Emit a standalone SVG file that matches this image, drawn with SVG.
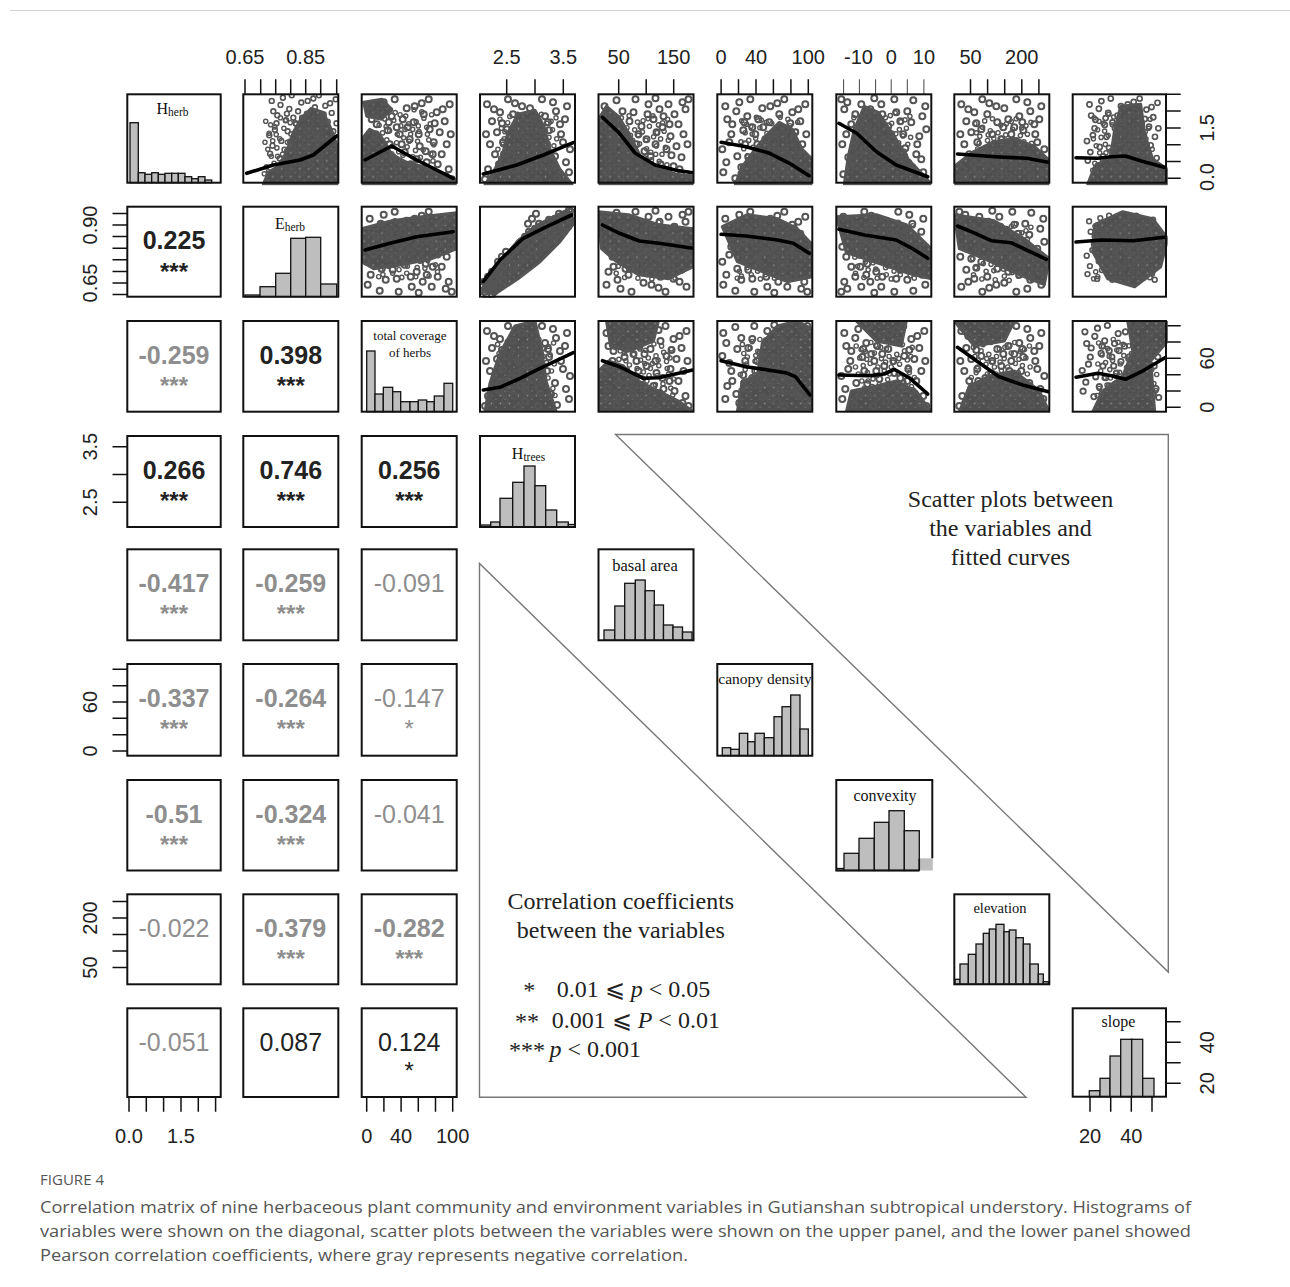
<svg xmlns="http://www.w3.org/2000/svg" xmlns:xlink="http://www.w3.org/1999/xlink" width="1290" height="1287" viewBox="0 0 1290 1287">
<style>
.fr{fill:none;stroke:#111;stroke-width:2}
.bar{fill:#bebebe;stroke:#111;stroke-width:1.3}
.tk{stroke:#111;stroke-width:1.5}
.tkl{stroke:#444;stroke-width:1}
.ax{font-family:"Liberation Sans",Arial,sans-serif;font-size:20px;fill:#222;text-anchor:middle}
.t{font-family:"Liberation Serif","Times New Roman",serif;fill:#111;text-anchor:middle}
.n{font-family:"Liberation Sans",Arial,sans-serif;font-size:25px;text-anchor:middle}
.s{font-size:24px}
.b{font-weight:bold}
.p{fill:#222}
.g{fill:#8e8e8e}
.pt{fill:none;stroke:#555;stroke-width:2}
.m{fill:url(#dp);stroke:#555;stroke-width:3;stroke-linejoin:round}
.fit{fill:none;stroke:#000;stroke-width:3.6;stroke-linejoin:round;stroke-linecap:round}
.tri{fill:none;stroke:#777;stroke-width:1.4}
.big{font-family:"Liberation Serif","Times New Roman",serif;font-size:24px;fill:#222}
.cap{font-family:"Open Sans","Noto Sans",sans-serif;fill:#555}
</style>
<defs>
<pattern id="dp" x="0" y="0" width="9" height="8" patternUnits="userSpaceOnUse">
<rect width="9" height="8" fill="#4f4f4f"/>
<circle cx="2.5" cy="2.5" r="0.9" fill="#8c8c8c"/>
<circle cx="7" cy="6.2" r="0.7" fill="#7a7a7a"/>
</pattern>
<clipPath id="cp"><rect x="0" y="0" width="95" height="91"/></clipPath>
<g id="cl" class="pt">
<circle cx="8" cy="12" r="3"/><circle cx="15" cy="30" r="3"/><circle cx="22" cy="8" r="3"/><circle cx="30" cy="22" r="3"/><circle cx="38" cy="40" r="3"/><circle cx="45" cy="14" r="3"/><circle cx="52" cy="28" r="3"/><circle cx="60" cy="9" r="3"/><circle cx="68" cy="35" r="3"/><circle cx="75" cy="18" r="3"/><circle cx="83" cy="27" r="3"/><circle cx="88" cy="10" r="3"/><circle cx="12" cy="48" r="3"/><circle cx="20" cy="62" r="3"/><circle cx="28" cy="50" r="3"/><circle cx="35" cy="72" r="3"/><circle cx="43" cy="58" r="3"/><circle cx="50" cy="80" r="3"/><circle cx="58" cy="52" r="3"/><circle cx="65" cy="68" r="3"/><circle cx="72" cy="48" r="3"/><circle cx="80" cy="60" r="3"/><circle cx="87" cy="75" r="3"/><circle cx="6" cy="78" r="3"/><circle cx="18" cy="84" r="3"/><circle cx="26" cy="36" r="3"/><circle cx="33" cy="5" r="3"/><circle cx="41" cy="25" r="3"/><circle cx="48" cy="45" r="3"/><circle cx="55" cy="65" r="3"/><circle cx="62" cy="20" r="3"/><circle cx="70" cy="80" r="3"/><circle cx="78" cy="38" r="3"/><circle cx="85" cy="50" r="3"/><circle cx="90" cy="85" r="3"/><circle cx="10" cy="25" r="3"/><circle cx="24" cy="73" r="3"/><circle cx="31" cy="63" r="3"/><circle cx="46" cy="33" r="3"/><circle cx="53" cy="12" r="3"/><circle cx="57" cy="40" r="3"/><circle cx="64" cy="57" r="3"/><circle cx="73" cy="29" r="3"/><circle cx="81" cy="15" r="3"/><circle cx="89" cy="40" r="3"/><circle cx="14" cy="40" r="3"/><circle cx="37" cy="85" r="3"/><circle cx="67" cy="5" r="3"/><circle cx="76" cy="70" r="3"/><circle cx="40" cy="50" r="3"/><circle cx="5" cy="55" r="3"/><circle cx="19" cy="17" r="3"/><circle cx="84" cy="82" r="3"/><circle cx="61" cy="75" r="3"/><circle cx="27" cy="28" r="3"/><circle cx="49" cy="70" r="3"/><circle cx="71" cy="60" r="3"/><circle cx="9" cy="68" r="3"/><circle cx="35" cy="33" r="3"/><circle cx="57" cy="86" r="3"/>
</g>
<g id="cl2" class="pt">
<circle cx="5" cy="85" r="3"/><circle cx="10" cy="78" r="3"/><circle cx="8" cy="70" r="3"/><circle cx="15" cy="72" r="3"/><circle cx="20" cy="62" r="3"/><circle cx="25" cy="58" r="3"/><circle cx="22" cy="50" r="3"/><circle cx="30" cy="48" r="3"/><circle cx="35" cy="42" r="3"/><circle cx="40" cy="38" r="3"/><circle cx="45" cy="30" r="3"/><circle cx="50" cy="35" r="3"/><circle cx="55" cy="22" r="3"/><circle cx="60" cy="28" r="3"/><circle cx="65" cy="18" r="3"/><circle cx="70" cy="22" r="3"/><circle cx="75" cy="12" r="3"/><circle cx="80" cy="15" r="3"/><circle cx="85" cy="8" r="3"/><circle cx="90" cy="5" r="3"/><circle cx="12" cy="88" r="3"/><circle cx="28" cy="68" r="3"/><circle cx="48" cy="48" r="3"/><circle cx="70" cy="35" r="3"/><circle cx="88" cy="20" r="3"/><circle cx="62" cy="42" r="3"/><circle cx="38" cy="58" r="3"/><circle cx="52" cy="12" r="3"/><circle cx="78" cy="28" r="3"/><circle cx="18" cy="80" r="3"/>
</g>
</defs>
<rect x="0" y="0" width="1290" height="1287" fill="#fff"/>
<line x1="10" y1="10.5" x2="1290" y2="10.5" stroke="#d4d4d4" stroke-width="1"/>

<g id="axes">
<g id="axis-top">
<path class="tk" d="M245,79.3V94.3M260.7,79.3V94.3M275.7,79.3V94.3M290.7,79.3V94.3M305.7,79.3V94.3M320.7,79.3V94.3M336.7,79.3V94.3M506.7,79.3V94.3M535,79.3V94.3M563.3,79.3V94.3M618.7,79.3V94.3M646.2,79.3V94.3M673.7,79.3V94.3M721.1,79.3V94.3M738.5,79.3V94.3M756,79.3V94.3M773.4,79.3V94.3M790.9,79.3V94.3M808.3,79.3V94.3M970.5,79.3V94.3M987.6,79.3V94.3M1004.7,79.3V94.3M1021.8,79.3V94.3M1038.9,79.3V94.3"/>
<path class="tkl" d="M843.6,79.3V94.3M859.4,79.3V94.3M875.6,79.3V94.3M891.2,79.3V94.3M907.3,79.3V94.3M923.9,79.3V94.3"/>
<text class="ax" x="245" y="63.5">0.65</text><text class="ax" x="305.7" y="63.5">0.85</text>
<text class="ax" x="506.7" y="63.5">2.5</text><text class="ax" x="563.3" y="63.5">3.5</text>
<text class="ax" x="618.7" y="63.5">50</text><text class="ax" x="673.7" y="63.5">150</text>
<text class="ax" x="721.1" y="63.5">0</text><text class="ax" x="756" y="63.5">40</text><text class="ax" x="808.3" y="63.5">100</text>
<text class="ax" x="858.5" y="63.5">-10</text><text class="ax" x="891.2" y="63.5">0</text><text class="ax" x="923.9" y="63.5">10</text>
<text class="ax" x="970.5" y="63.5">50</text><text class="ax" x="1021.8" y="63.5">200</text>
</g>
<g id="axis-left">
<path class="tk" d="M112.5,213.4H127.3M112.5,225H127.3M112.5,236.6H127.3M112.5,248.2H127.3M112.5,259.8H127.3M112.5,271.4H127.3M112.5,283H127.3M112.5,294.6H127.3M112.5,446.7H127.3M112.5,474.5H127.3M112.5,502.3H127.3M112.5,669.3H127.3M112.5,685.7H127.3M112.5,702H127.3M112.5,718.3H127.3M112.5,734.7H127.3M112.5,751H127.3M112.5,901.5H127.3M112.5,918H127.3M112.5,934.5H127.3M112.5,951H127.3M112.5,967.5H127.3"/>
<text class="ax" transform="translate(97,225) rotate(-90)">0.90</text>
<text class="ax" transform="translate(97,283) rotate(-90)">0.65</text>
<text class="ax" transform="translate(97,446.7) rotate(-90)">3.5</text>
<text class="ax" transform="translate(97,502.3) rotate(-90)">2.5</text>
<text class="ax" transform="translate(97,702) rotate(-90)">60</text>
<text class="ax" transform="translate(97,751) rotate(-90)">0</text>
<text class="ax" transform="translate(97,918) rotate(-90)">200</text>
<text class="ax" transform="translate(97,967.5) rotate(-90)">50</text>
</g>
<g id="axis-right">
<path class="tk" d="M1166,94.3H1180.7M1166,111.1H1180.7M1166,127.9H1180.7M1166,144.7H1180.7M1166,161.5H1180.7M1166,178.3H1180.7M1166,325.7H1180.7M1166,342H1180.7M1166,358.3H1180.7M1166,374.7H1180.7M1166,391H1180.7M1166,407.3H1180.7M1166,1021.8H1180.7M1166,1042.3H1180.7M1166,1062.8H1180.7M1166,1083.3H1180.7"/>
<text class="ax" transform="translate(1214,127.9) rotate(-90)">1.5</text>
<text class="ax" transform="translate(1214,177) rotate(-90)">0.0</text>
<text class="ax" transform="translate(1214,358.3) rotate(-90)">60</text>
<text class="ax" transform="translate(1214,407.3) rotate(-90)">0</text>
<text class="ax" transform="translate(1214,1042.3) rotate(-90)">40</text>
<text class="ax" transform="translate(1214,1083.3) rotate(-90)">20</text>
</g>
<g id="axis-bottom">
<path class="tk" d="M129,1097V1111.7M146.3,1097V1111.7M163.6,1097V1111.7M181,1097V1111.7M198.3,1097V1111.7M215.6,1097V1111.7M366.7,1097V1111.7M383.9,1097V1111.7M401.1,1097V1111.7M418.3,1097V1111.7M435.5,1097V1111.7M452.7,1097V1111.7M1090,1096.7V1111.7M1110.7,1096.7V1111.7M1131.3,1096.7V1111.7M1152,1096.7V1111.7"/>
<text class="ax" x="129" y="1143.3">0.0</text><text class="ax" x="181" y="1143.3">1.5</text>
<text class="ax" x="366.7" y="1143.3">0</text><text class="ax" x="401.1" y="1143.3">40</text><text class="ax" x="452.7" y="1143.3">100</text>
<text class="ax" x="1090" y="1143.3">20</text><text class="ax" x="1131.3" y="1143.3">40</text>
</g>
</g>

<g id="hist-hherb">
<rect class="bar" x="130" y="122.7" width="8.3" height="60"/><rect class="bar" x="138.3" y="172.7" width="6.7" height="10"/><rect class="bar" x="145" y="174.3" width="6.7" height="8.4"/><rect class="bar" x="151.7" y="172.7" width="6.6" height="10"/><rect class="bar" x="158.3" y="174.3" width="6.7" height="8.4"/><rect class="bar" x="165" y="173.3" width="6.7" height="9.4"/><rect class="bar" x="171.7" y="173.3" width="6.6" height="9.4"/><rect class="bar" x="178.3" y="173.3" width="6.7" height="9.4"/><rect class="bar" x="185" y="176.7" width="6.7" height="6"/><rect class="bar" x="191.7" y="178.7" width="6.6" height="4"/><rect class="bar" x="198.3" y="176.7" width="6.7" height="6"/><rect class="bar" x="205" y="180" width="6.7" height="2.7"/>
<rect class="fr" x="127.3" y="94.3" width="93.4" height="88.4"/>
<text class="t" x="172.5" y="114" font-size="16">H<tspan font-size="11.5" dy="1.5">herb</tspan></text>
</g>
<g id="hist-eherb">
<rect class="bar" x="245" y="295" width="15" height="1.7"/><rect class="bar" x="260" y="286.7" width="15.7" height="10"/><rect class="bar" x="275.7" y="273.3" width="15" height="23.4"/><rect class="bar" x="290.7" y="238.3" width="15" height="58.4"/><rect class="bar" x="305.7" y="237.3" width="15" height="59.4"/><rect class="bar" x="320.7" y="284" width="16" height="12.7"/>
<rect class="fr" x="243.3" y="206.7" width="95" height="90"/>
<text class="t" x="290" y="229" font-size="16">E<tspan font-size="11.5" dy="1.5">herb</tspan></text>
</g>
<g id="hist-total-coverage">
<rect class="bar" x="366.7" y="351" width="8.3" height="60.7"/><rect class="bar" x="375" y="394" width="8.3" height="17.7"/><rect class="bar" x="383.3" y="387.3" width="9.4" height="24.4"/><rect class="bar" x="392.7" y="391.7" width="8" height="20"/><rect class="bar" x="400.7" y="401.7" width="9.3" height="10"/><rect class="bar" x="410" y="401.7" width="8.3" height="10"/><rect class="bar" x="418.3" y="400" width="8.4" height="11.7"/><rect class="bar" x="426.7" y="401.7" width="7.6" height="10"/><rect class="bar" x="434.3" y="396" width="9.7" height="15.7"/><rect class="bar" x="444" y="383.3" width="8.7" height="28.4"/>
<rect class="fr" x="361.7" y="321" width="95" height="90.7"/>
<text class="t" x="410" y="340" font-size="13">total coverage</text>
<text class="t" x="410" y="356.5" font-size="13">of herbs</text>
</g>
<g id="hist-htrees">
<rect class="bar" x="480.7" y="525" width="10" height="2"/><rect class="bar" x="490.7" y="522" width="9.3" height="5"/><rect class="bar" x="500" y="498.3" width="12.7" height="28.7"/><rect class="bar" x="512.7" y="482.3" width="11.3" height="44.7"/><rect class="bar" x="524" y="466" width="11" height="61"/><rect class="bar" x="535" y="485.7" width="10.7" height="41.3"/><rect class="bar" x="545.7" y="510" width="11" height="17"/><rect class="bar" x="556.7" y="522" width="11.6" height="5"/><rect class="bar" x="568.3" y="524.5" width="6.7" height="2.5"/>
<rect class="fr" x="480" y="436" width="95" height="91"/>
<text class="t" x="528.5" y="459" font-size="16">H<tspan font-size="11.5" dy="1.5">trees</tspan></text>
</g>
<g id="hist-basal-area">
<rect class="bar" x="604" y="630" width="10.8" height="10.3"/><rect class="bar" x="614.8" y="606" width="9.9" height="34.3"/><rect class="bar" x="624.7" y="583.3" width="10.6" height="57"/><rect class="bar" x="635.3" y="580" width="9.9" height="60.3"/><rect class="bar" x="645.2" y="590.7" width="9.1" height="49.6"/><rect class="bar" x="654.3" y="605" width="9.2" height="35.3"/><rect class="bar" x="663.5" y="625" width="9.5" height="15.3"/><rect class="bar" x="673" y="627" width="9.5" height="13.3"/><rect class="bar" x="682.5" y="632" width="9.5" height="8.3"/>
<rect class="fr" x="598.5" y="549.3" width="95" height="91"/>
<text class="t" x="645" y="571" font-size="16.5">basal area</text>
</g>
<g id="hist-canopy-density">
<rect class="bar" x="722.3" y="747.7" width="8.4" height="8"/><rect class="bar" x="730.7" y="749.3" width="8.6" height="6.4"/><rect class="bar" x="739.3" y="733.3" width="8.4" height="22.4"/><rect class="bar" x="747.7" y="741.7" width="7.3" height="14"/><rect class="bar" x="755" y="733.3" width="9.3" height="22.4"/><rect class="bar" x="764.3" y="737.7" width="9.7" height="18"/><rect class="bar" x="774" y="716.7" width="8" height="39"/><rect class="bar" x="782" y="706.7" width="8.7" height="49"/><rect class="bar" x="790.7" y="695" width="9.3" height="60.7"/><rect class="bar" x="800" y="729" width="8.3" height="26.7"/>
<rect class="fr" x="717.3" y="664" width="95" height="91.7"/>
<text class="t" x="765" y="684" font-size="15.5">canopy density</text>
</g>
<g id="hist-convexity">
<rect class="bar" x="836.7" y="868.5" width="7.3" height="2"/><rect class="bar" x="844" y="853.3" width="15" height="17.2"/><rect class="bar" x="859" y="838.3" width="15.3" height="32.2"/><rect class="bar" x="874.3" y="822.3" width="14.7" height="48.2"/><rect class="bar" x="889" y="810.7" width="15.3" height="59.8"/><rect class="bar" x="904.3" y="830.7" width="15" height="39.8"/>
<rect x="919.3" y="858.3" width="13.5" height="12.2" fill="#bebebe"/><line x1="919.3" y1="858.3" x2="919.3" y2="870.5" class="tk"/>
<path class="fr" d="M932.3,858.3V780H836.3V870.5H919.3"/>
<text class="t" x="885" y="801" font-size="16">convexity</text>
</g>
<g id="hist-elevation">
<rect class="bar" x="955" y="979.3" width="5" height="5"/><rect class="bar" x="960" y="964" width="8.3" height="20.3"/><rect class="bar" x="968.3" y="954.3" width="7.7" height="30"/><rect class="bar" x="976" y="944" width="7.3" height="40.3"/><rect class="bar" x="983.3" y="933.3" width="6" height="51"/><rect class="bar" x="989.3" y="929" width="6.7" height="55.3"/><rect class="bar" x="996" y="924.3" width="8" height="60"/><rect class="bar" x="1004" y="931.7" width="5.3" height="52.6"/><rect class="bar" x="1009.3" y="930" width="6.7" height="54.3"/><rect class="bar" x="1016" y="937.7" width="7.3" height="46.6"/><rect class="bar" x="1023.3" y="944" width="6.7" height="40.3"/><rect class="bar" x="1030" y="964" width="8.3" height="20.3"/><rect class="bar" x="1038.3" y="974" width="5" height="10.3"/><rect class="bar" x="1043.3" y="981.7" width="5" height="2.6"/>
<rect class="fr" x="954.3" y="894.3" width="95" height="90"/>
<text class="t" x="1000" y="913.3" font-size="14.5">elevation</text>
</g>
<g id="hist-slope">
<rect class="bar" x="1089.3" y="1090.7" width="10.7" height="6"/><rect class="bar" x="1100" y="1078.3" width="10" height="18.4"/><rect class="bar" x="1110" y="1056" width="10.7" height="40.7"/><rect class="bar" x="1120.7" y="1039.3" width="11" height="57.4"/><rect class="bar" x="1131.7" y="1039.3" width="11" height="57.4"/><rect class="bar" x="1142.7" y="1078.3" width="11.3" height="18.4"/>
<rect class="fr" x="1072.7" y="1008.3" width="93.3" height="88.4"/>
<text class="t" x="1118.5" y="1026.7" font-size="16">slope</text>
</g>

<g id="scatter-r0-c1" transform="translate(243.3,94.3)"><g clip-path="url(#cp)">
<path class="m" d="M20,90 L25,78 L38,70 L45,52 L50,38 L58,24 L68,14 L80,18 L88,35 L95,55 L95,90 Z"/>
<use href="#cl" transform="translate(22,-3) scale(0.8)"/><use href="#cl" transform="matrix(-0.7,0,0,0.7,84,20)"/>
<polyline class="fit" points="3.4,79 30,70.7 56.7,65.7 70,60.7 93.4,41.7"/></g>
<rect class="fr" width="95" height="88.4"/></g>
<g id="scatter-r0-c2" transform="translate(361.7,94.3)"><g clip-path="url(#cp)">
<path class="m" d="M0,90 L0,45 L8,35 L18,40 L30,60 L45,68 L60,72 L78,80 L95,86 L95,90 Z M2,8 L20,5 L30,15 L20,25 L5,22 Z"/>
<use href="#cl"/><use href="#cl" transform="matrix(-0.7,0,0,0.7,75.5,12)"/>
<polyline class="fit" points="3.3,65.7 30,51.7 55,65.7 91.6,84"/></g>
<rect class="fr" width="95" height="88.4"/></g>
<g id="scatter-r0-c3" transform="translate(480,94.3)"><g clip-path="url(#cp)">
<path class="m" d="M5,90 L12,80 L22,62 L28,38 L38,20 L55,16 L64,32 L70,55 L80,75 L92,90 Z"/>
<use href="#cl" transform="matrix(-1,0,0,1,95,0)"/><use href="#cl" transform="translate(14.4,16.5) scale(0.7)"/>
<polyline class="fit" points="3.3,79.7 36.7,70.7 63.3,60.7 93.3,48.4"/></g>
<rect class="fr" width="95" height="88.4"/></g>
<g id="scatter-r0-c4" transform="translate(598.5,94.3)"><g clip-path="url(#cp)">
<path class="m" d="M0,90 L0,25 L8,12 L20,22 L32,42 L42,62 L58,74 L78,80 L95,82 L95,90 Z"/>
<use href="#cl" transform="matrix(1,0,0,-1,0,90)"/><use href="#cl" transform="translate(7.5,18) scale(0.7)"/>
<polyline class="fit" points="4,23 21,39 36.8,59 56.6,70.7 76.4,75.7 94.1,78.4"/></g>
<rect class="fr" width="95" height="88.4"/></g>
<g id="scatter-r0-c5" transform="translate(717.3,94.3)"><g clip-path="url(#cp)">
<path class="m" d="M18,90 L25,72 L40,52 L52,38 L62,28 L75,35 L85,55 L95,65 L95,90 Z"/>
<use href="#cl"/><use href="#cl" transform="matrix(-0.7,0,0,0.7,86,19.5)"/>
<polyline class="fit" points="3.8,48 28.7,52.4 52.4,59 72.2,69 91.9,81.4"/></g>
<rect class="fr" width="95" height="88.4"/></g>
<g id="scatter-r0-c6" transform="translate(836.3,94.3)"><g clip-path="url(#cp)">
<path class="m" d="M8,90 L12,62 L18,35 L28,12 L42,18 L58,42 L72,65 L88,82 L95,90 Z"/>
<use href="#cl" transform="matrix(-1,0,0,-1,95,90)"/><use href="#cl" transform="translate(12,15) scale(0.7)"/>
<polyline class="fit" points="2.6,29 20.4,39 40.1,57.4 59.9,70.7 91.5,82.4"/></g>
<rect class="fr" width="95" height="88.4"/></g>
<g id="scatter-r0-c7" transform="translate(954.3,94.3)"><g clip-path="url(#cp)">
<path class="m" d="M0,90 L0,72 L18,58 L38,48 L60,44 L80,52 L95,66 L95,90 Z"/>
<use href="#cl" transform="matrix(-1,0,0,1,95,0)"/><use href="#cl" transform="translate(15,21) scale(0.7)"/>
<polyline class="fit" points="3.2,59.7 40.7,62.4 72.3,64 94.1,68"/></g>
<rect class="fr" width="95" height="88.4"/></g>
<g id="scatter-r0-c8" transform="translate(1072.7,94.3)"><g clip-path="url(#cp)">
<path class="m" d="M15,90 L22,72 L38,62 L42,35 L48,12 L68,10 L72,40 L80,65 L95,75 L95,90 Z"/>
<use href="#cl" transform="translate(10,0) scale(0.85)"/><use href="#cl" transform="matrix(-0.7,0,0,0.7,83,16.5)"/>
<polyline class="fit" points="3.3,63.4 25.1,64 38.9,62.4 52.7,61.7 68.6,66.7 91.5,73"/></g>
<rect class="fr" width="93.3" height="88.4"/></g>

<g id="scatter-r1-c2" transform="translate(361.7,206.7)"><g clip-path="url(#cp)">
<path class="m" d="M0,22 L30,14 L60,10 L95,6 L95,42 L70,52 L40,58 L12,62 L0,55 Z"/>
<use href="#cl"/><use href="#cl" transform="matrix(-0.7,0,0,0.7,80,10.5)"/>
<polyline class="fit" points="3.3,43.3 28.3,36.6 55,30 91.6,25"/></g>
<rect class="fr" width="95" height="90"/></g>
<g id="scatter-r1-c3" transform="translate(480,206.7)"><g clip-path="url(#cp)">
<path class="m" d="M2,82 L18,58 L38,34 L58,18 L88,3 L95,15 L80,35 L60,55 L38,72 L14,88 Z"/>
<use href="#cl2"/><use href="#cl2" transform="translate(4,-5)"/><use href="#cl2" transform="translate(-4,5)"/>
<polyline class="fit" points="3.3,75 20,53.3 43.3,31.6 66.7,20 91.7,8.3"/></g>
<rect class="fr" width="95" height="90"/></g>
<g id="scatter-r1-c4" transform="translate(598.5,206.7)"><g clip-path="url(#cp)">
<path class="m" d="M0,5 L30,8 L60,18 L95,22 L95,60 L70,72 L40,68 L18,55 L3,42 Z"/>
<use href="#cl" transform="matrix(1,0,0,-1,0,90)"/><use href="#cl" transform="translate(13.5,12) scale(0.7)"/>
<polyline class="fit" points="4,18.3 21,26.6 40.8,34.3 60.5,36.6 94.1,41.6"/></g>
<rect class="fr" width="95" height="90"/></g>
<g id="scatter-r1-c5" transform="translate(717.3,206.7)"><g clip-path="url(#cp)">
<path class="m" d="M5,20 L30,8 L60,12 L80,22 L95,38 L95,70 L70,75 L45,65 L20,55 Z"/>
<use href="#cl"/><use href="#cl" transform="matrix(-0.7,0,0,0.7,83,12)"/>
<polyline class="fit" points="3.8,27.6 28.7,29.3 60.3,33.3 76.1,36.6 91.9,46.6"/></g>
<rect class="fr" width="95" height="90"/></g>
<g id="scatter-r1-c6" transform="translate(836.3,206.7)"><g clip-path="url(#cp)">
<path class="m" d="M0,10 L40,8 L70,18 L95,42 L95,72 L70,66 L40,56 L10,46 Z"/>
<use href="#cl" transform="matrix(-1,0,0,1,95,0)"/><use href="#cl" transform="translate(15,12) scale(0.7)"/>
<polyline class="fit" points="2.6,22.6 28.3,28.3 59.9,33.3 75.7,41.6 91.5,51.6"/></g>
<rect class="fr" width="95" height="90"/></g>
<g id="scatter-r1-c7" transform="translate(954.3,206.7)"><g clip-path="url(#cp)">
<path class="m" d="M0,8 L40,14 L70,32 L95,52 L90,78 L60,66 L30,52 L5,42 Z"/>
<use href="#cl" transform="matrix(-1,0,0,-1,95,90)"/><use href="#cl" transform="translate(15,13.5) scale(0.7)"/>
<polyline class="fit" points="3.2,19.3 21,26.6 36.8,34 56.5,36 72.3,43.3 92.1,52.6"/></g>
<rect class="fr" width="95" height="90"/></g>
<g id="scatter-r1-c8" transform="translate(1072.7,206.7)"><g clip-path="url(#cp)">
<path class="m" d="M22,18 L50,5 L80,12 L95,32 L88,60 L62,80 L35,72 L20,45 Z"/>
<use href="#cl" transform="translate(10,5) scale(0.8)"/><use href="#cl" transform="matrix(-0.7,0,0,0.7,83.9,12.6)"/>
<polyline class="fit" points="3.3,35.3 29,33.3 60.7,34 91.5,30.6"/></g>
<rect class="fr" width="93.3" height="90"/></g>

<g id="scatter-r2-c3" transform="translate(480,321)"><g clip-path="url(#cp)">
<path class="m" d="M5,90 L10,62 L20,32 L35,5 L55,0 L62,30 L66,60 L76,90 Z"/>
<use href="#cl" transform="matrix(-1,0,0,1,95,0)"/><use href="#cl" transform="translate(12,15) scale(0.7)"/>
<polyline class="fit" points="3.3,69 20,66.3 40,57.3 60,47.3 93.3,31.7"/></g>
<rect class="fr" width="95" height="90.7"/></g>
<g id="scatter-r2-c4" transform="translate(598.5,321)"><g clip-path="url(#cp)">
<path class="m" d="M0,91 L0,50 L10,40 L25,45 L40,60 L60,70 L80,80 L95,91 Z M8,0 L60,0 L55,20 L30,30 L12,25 Z"/>
<use href="#cl"/><use href="#cl" transform="matrix(-0.7,0,0,0.7,78.5,19.5)"/>
<polyline class="fit" points="4,39.7 21,45.7 44.7,57.3 60.5,56.7 94.1,49"/></g>
<rect class="fr" width="95" height="90.7"/></g>
<g id="scatter-r2-c5" transform="translate(717.3,321)"><g clip-path="url(#cp)">
<path class="m" d="M20,91 L25,60 L40,55 L45,22 L60,5 L80,0 L95,8 L95,91 Z"/>
<use href="#cl" transform="matrix(1,0,0,-1,0,90)"/><use href="#cl" transform="translate(19.5,15) scale(0.7)"/>
<polyline class="fit" points="3.8,39.7 28.7,45.7 68.2,51.7 78.1,55.7 92.7,74"/></g>
<rect class="fr" width="95" height="90.7"/></g>
<g id="scatter-r2-c6" transform="translate(836.3,321)"><g clip-path="url(#cp)">
<path class="m" d="M10,91 L15,70 L40,65 L60,60 L80,70 L95,91 Z M20,0 L70,0 L65,25 L40,20 Z"/>
<use href="#cl"/><use href="#cl" transform="matrix(-0.7,0,0,0.7,81.5,18)"/>
<polyline class="fit" points="2.6,54 32.2,54.7 48,53 57.9,48.3 73.7,57.3 91.5,73"/></g>
<rect class="fr" width="95" height="90.7"/></g>
<g id="scatter-r2-c7" transform="translate(954.3,321)"><g clip-path="url(#cp)">
<path class="m" d="M5,91 L15,65 L35,55 L60,50 L85,70 L95,91 Z M0,0 L60,0 L50,20 L20,25 Z"/>
<use href="#cl" transform="matrix(-1,0,0,1,95,0)"/><use href="#cl" transform="translate(13.5,18) scale(0.7)"/>
<polyline class="fit" points="3.2,26.3 21,39 44.7,55.7 68.4,64 94.1,70.7"/></g>
<rect class="fr" width="95" height="90.7"/></g>
<g id="scatter-r2-c8" transform="translate(1072.7,321)"><g clip-path="url(#cp)">
<path class="m" d="M20,91 L30,70 L50,55 L60,30 L55,0 L95,0 L95,20 L78,40 L82,91 Z"/>
<use href="#cl" transform="translate(5,0) scale(0.9)"/><use href="#cl" transform="matrix(-0.7,0,0,0.7,87.5,15)"/>
<polyline class="fit" points="3.3,56.3 25.1,52.3 38.9,54.7 52.7,58.3 68.6,50.7 92.3,36.7"/></g>
<rect class="fr" width="93.3" height="90.7"/></g>

<g id="corr-r1-c0"><rect class="fr" x="127.3" y="206.7" width="93.4" height="90"/><text class="n b p" x="174" y="249.2">0.225</text><text class="n s b p" x="174" y="279.7">***</text></g>
<g id="corr-r2-c0"><rect class="fr" x="127.3" y="321" width="93.4" height="90.7"/><text class="n b g" x="174" y="363.5">-0.259</text><text class="n s b g" x="174" y="394">***</text></g>
<g id="corr-r2-c1"><rect class="fr" x="243.3" y="321" width="95" height="90.7"/><text class="n b p" x="290.8" y="363.5">0.398</text><text class="n s b p" x="290.8" y="394">***</text></g>
<g id="corr-r3-c0"><rect class="fr" x="127.3" y="436" width="93.4" height="91"/><text class="n b p" x="174" y="478.5">0.266</text><text class="n s b p" x="174" y="509">***</text></g>
<g id="corr-r3-c1"><rect class="fr" x="243.3" y="436" width="95" height="91"/><text class="n b p" x="290.8" y="478.5">0.746</text><text class="n s b p" x="290.8" y="509">***</text></g>
<g id="corr-r3-c2"><rect class="fr" x="361.7" y="436" width="95" height="91"/><text class="n b p" x="409.2" y="478.5">0.256</text><text class="n s b p" x="409.2" y="509">***</text></g>
<g id="corr-r4-c0"><rect class="fr" x="127.3" y="549.3" width="93.4" height="91"/><text class="n b g" x="174" y="591.8">-0.417</text><text class="n s b g" x="174" y="622.3">***</text></g>
<g id="corr-r4-c1"><rect class="fr" x="243.3" y="549.3" width="95" height="91"/><text class="n b g" x="290.8" y="591.8">-0.259</text><text class="n s b g" x="290.8" y="622.3">***</text></g>
<g id="corr-r4-c2"><rect class="fr" x="361.7" y="549.3" width="95" height="91"/><text class="n g" x="409.2" y="591.8">-0.091</text></g>
<g id="corr-r5-c0"><rect class="fr" x="127.3" y="664" width="93.4" height="91.7"/><text class="n b g" x="174" y="706.5">-0.337</text><text class="n s b g" x="174" y="737">***</text></g>
<g id="corr-r5-c1"><rect class="fr" x="243.3" y="664" width="95" height="91.7"/><text class="n b g" x="290.8" y="706.5">-0.264</text><text class="n s b g" x="290.8" y="737">***</text></g>
<g id="corr-r5-c2"><rect class="fr" x="361.7" y="664" width="95" height="91.7"/><text class="n g" x="409.2" y="706.5">-0.147</text><text class="n s g" x="409.2" y="737">*</text></g>
<g id="corr-r6-c0"><rect class="fr" x="127.3" y="780" width="93.4" height="90.5"/><text class="n b g" x="174" y="822.5">-0.51</text><text class="n s b g" x="174" y="853">***</text></g>
<g id="corr-r6-c1"><rect class="fr" x="243.3" y="780" width="95" height="90.5"/><text class="n b g" x="290.8" y="822.5">-0.324</text><text class="n s b g" x="290.8" y="853">***</text></g>
<g id="corr-r6-c2"><rect class="fr" x="361.7" y="780" width="95" height="90.5"/><text class="n g" x="409.2" y="822.5">-0.041</text></g>
<g id="corr-r7-c0"><rect class="fr" x="127.3" y="894.3" width="93.4" height="90"/><text class="n g" x="174" y="936.8">-0.022</text></g>
<g id="corr-r7-c1"><rect class="fr" x="243.3" y="894.3" width="95" height="90"/><text class="n b g" x="290.8" y="936.8">-0.379</text><text class="n s b g" x="290.8" y="967.3">***</text></g>
<g id="corr-r7-c2"><rect class="fr" x="361.7" y="894.3" width="95" height="90"/><text class="n b g" x="409.2" y="936.8">-0.282</text><text class="n s b g" x="409.2" y="967.3">***</text></g>
<g id="corr-r8-c0"><rect class="fr" x="127.3" y="1008.3" width="93.4" height="88.7"/><text class="n g" x="174" y="1050.8">-0.051</text></g>
<g id="corr-r8-c1"><rect class="fr" x="243.3" y="1008.3" width="95" height="88.7"/><text class="n p" x="290.8" y="1050.8">0.087</text></g>
<g id="corr-r8-c2"><rect class="fr" x="361.7" y="1008.3" width="95" height="88.7"/><text class="n p" x="409.2" y="1050.8">0.124</text><text class="n s p" x="409.2" y="1079">*</text></g>

<g id="upper-panel-note">
<polygon class="tri" points="615.5,434.5 1168.3,434.5 1168.3,972"/>
<text class="big" x="1010.5" y="507" text-anchor="middle" font-size="23.5">Scatter plots between</text>
<text class="big" x="1010.5" y="536" text-anchor="middle" font-size="23.5">the variables and</text>
<text class="big" x="1010.5" y="564.5" text-anchor="middle" font-size="23.5">fitted curves</text>
</g>
<g id="lower-panel-note">
<polygon class="tri" points="479.5,563.5 479.5,1097.3 1026,1097.3"/>
<text class="big" x="620.8" y="909" text-anchor="middle">Correlation coefficients</text>
<text class="big" x="620.8" y="937.5" text-anchor="middle">between the variables</text>
<text class="big" x="523.3" y="998">*</text>
<text class="big" x="556.7" y="997">0.01 ⩽ <tspan font-style="italic">p</tspan> &lt; 0.05</text>
<text class="big" x="515" y="1029">**</text>
<text class="big" x="551.7" y="1028.3">0.001 ⩽ <tspan font-style="italic">P</tspan> &lt; 0.01</text>
<text class="big" x="509" y="1058">***</text>
<text class="big" x="549.5" y="1056.7"><tspan font-style="italic">p</tspan> &lt; 0.001</text>
</g>

<g id="caption">
<text class="cap" x="40" y="1185" font-size="14" fill="#666" textLength="64" lengthAdjust="spacingAndGlyphs">FIGURE 4</text>
<text class="cap" x="40" y="1213" font-size="17" textLength="1151" lengthAdjust="spacingAndGlyphs">Correlation matrix of nine herbaceous plant community and environment variables in Gutianshan subtropical understory. Histograms of</text>
<text class="cap" x="40" y="1237" font-size="17" textLength="1151" lengthAdjust="spacingAndGlyphs">variables were shown on the diagonal, scatter plots between the variables were shown on the upper panel, and the lower panel showed</text>
<text class="cap" x="40" y="1261" font-size="17" textLength="648" lengthAdjust="spacingAndGlyphs">Pearson correlation coefficients, where gray represents negative correlation.</text>
</g>
</svg>
